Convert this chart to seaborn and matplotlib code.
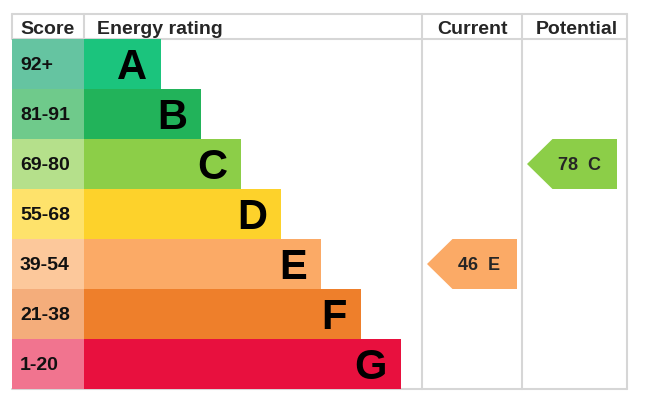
import pandas as pd
import seaborn as sns
import matplotlib.pyplot as plt

# chart data
bands = ['A', 'B', 'C', 'D', 'E', 'F', 'G']
score_labels = ['92+', '81-91', '69-80', '55-68', '39-54', '21-38', '1-20']
band_min = [92, 81, 69, 55, 39, 21, 1]
bar_len = [77, 117, 157, 197, 237, 277, 317]
bar_colors = ['#1bc47d', '#22b35a', '#8cce48', '#fdd22b', '#fbaa66', '#ee7f2b', '#e8103e']
score_colors = ['#65c4a1', '#6fca8b', '#b5e08b', '#fee26b', '#fcc89b', '#f4ad7b', '#f1748f']
current = 46
potential = 78

# layout (x in px offset from bar start, y in rows)
score_w = 72
cur_left, pot_left, right_edge = 338, 438, 543
line_col = '#d6d6d6'

sns.set_style('white')
plt.rcParams['font.family'] = ['Liberation Sans', 'DejaVu Sans']

df = pd.DataFrame({'band': bands, 'len': bar_len, 'score': [-score_w] * 7})

fig = plt.figure(figsize=(6.51, 4.18), dpi=100)
ax = fig.add_axes([0, 0, 1, 1])

sns.barplot(data=df, x='score', y='band', hue='band', palette=score_colors,
            orient='h', width=1.0, legend=False, ax=ax, linewidth=0, saturation=1)
sns.barplot(data=df, x='len', y='band', hue='band', palette=bar_colors,
            orient='h', width=1.0, legend=False, ax=ax, linewidth=0, saturation=1)

for i, (b, s, L) in enumerate(zip(bands, score_labels, bar_len)):
    ax.text(L - 14, i + 0.31, b, ha='right', va='baseline', fontsize=30,
            fontweight='bold', color='black')
    ax.text(-64, i + 0.13, s, ha='left', va='baseline', fontsize=14,
            fontweight='bold', color='#111111')

# grid lines of the table
top, head, bottom = -1.0, -0.5, 6.5
for y in [top, head]:
    ax.plot([-score_w, right_edge], [y, y], color=line_col, lw=1.5, zorder=0)
ax.plot([-score_w, right_edge], [bottom, bottom], color=line_col, lw=1.5, zorder=0)
for x in [-score_w, 0]:
    ax.plot([x, x], [top, head], color=line_col, lw=1.5, zorder=0)
for x in [cur_left, pot_left, right_edge]:
    ax.plot([x, x], [top, bottom], color=line_col, lw=1.5, zorder=0)

# headers
hy = -0.6
ax.text(-64, hy, 'Score', ha='left', va='baseline', fontsize=14, fontweight='bold')
ax.text(13, hy, 'Energy rating', ha='left', va='baseline', fontsize=14, fontweight='bold')
ax.text((cur_left + pot_left) / 2, hy, 'Current', ha='center', va='baseline',
        fontsize=14, fontweight='bold')
ax.text((pot_left + right_edge) / 2 + 2, hy, 'Potential', ha='center', va='baseline',
        fontsize=14, fontweight='bold')


def band_of(v):
    for i, m in enumerate(band_min):
        if v >= m:
            return i
    return len(band_min) - 1


def arrow(col_left, value):
    i = band_of(value)
    tip, shoulder, end = col_left + 5, col_left + 30.5, col_left + 95
    ax.fill([tip, shoulder, end, end, shoulder], [i, i - 0.5, i - 0.5, i + 0.5, i + 0.5],
            color=bar_colors[i], lw=0)
    ax.text(tip + 52, i + 0.13, f'{value}  {bands[i]}', ha='center', va='baseline',
            fontsize=13, fontweight='bold')


arrow(cur_left, current)
arrow(pot_left, potential)

ax.set_xlim(-84, 567)
ax.set_ylim(7.08, -1.28)
ax.axis('off')
fig.savefig('out.png', dpi=100)
